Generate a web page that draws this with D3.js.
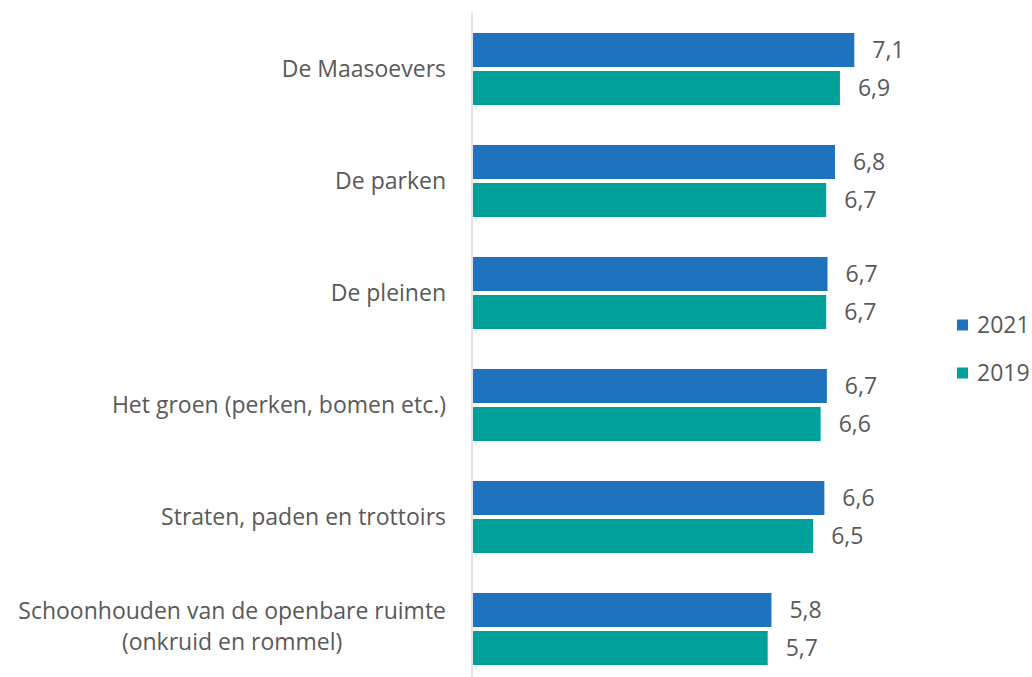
<!DOCTYPE html>
<html>
<head>
<meta charset="utf-8">
<script src="https://cdn.jsdelivr.net/npm/d3@7"></script>
<style>
  body { margin: 0; background: #fff; }
  svg text { font-family: "Open Sans", sans-serif; fill: #595959; }
</style>
</head>
<body>
<svg id="chart" width="1032" height="677"></svg>
<script>
const categories = [
  ["De Maasoevers"],
  ["De parken"],
  ["De pleinen"],
  ["Het groen (perken, bomen etc.)"],
  ["Straten, paden en trottoirs"],
  ["Schoonhouden van de openbare ruimte", "(onkruid en rommel)"]
];
const years = ["2021", "2019"];
const values2021 = [7.12, 6.81, 6.69, 6.68, 6.64, 5.79];
const values2019 = [6.89, 6.67, 6.67, 6.58, 6.46, 5.73];
const colors = ["#1f72be", "#00a19a"];

const svg = d3.select("#chart");
const width = 1032, height = 677;
const fontSize = 23;

const data = categories.map((c, i) => ({
  label: c,
  vals: [values2021[i], values2019[i]]
}));

const x = d3.scaleLinear()
  .domain([1, 10])
  .range([473, 473 + 9 * 62.3]);

const y0 = d3.scaleBand()
  .domain(d3.range(categories.length))
  .range([13, 685])
  .paddingInner(0.357)
  .paddingOuter(0.1785);

const y1 = d3.scaleBand()
  .domain(years)
  .range([0, y0.bandwidth()])
  .paddingInner(0.105);

// axis line
svg.append("line")
  .attr("x1", 472).attr("x2", 472)
  .attr("y1", 12).attr("y2", height)
  .attr("stroke", "#d9d9d9")
  .attr("stroke-width", 1.5);

const groups = svg.selectAll(".grp")
  .data(data)
  .enter().append("g")
  .attr("class", "grp")
  .attr("transform", (d, i) => `translate(0, ${y0(i)})`);

groups.selectAll("rect")
  .data(d => d.vals.map((v, j) => ({ year: years[j], v, j })))
  .enter().append("rect")
  .attr("x", x(1))
  .attr("y", d => y1(d.year))
  .attr("width", d => x(d.v) - x(1))
  .attr("height", y1.bandwidth())
  .attr("fill", d => colors[d.j]);

groups.selectAll(".val")
  .data(d => d.vals.map((v, j) => ({ year: years[j], v, j })))
  .enter().append("text")
  .attr("class", "val")
  .attr("x", d => x(d.v) + 18)
  .attr("y", d => y1(d.year) + y1.bandwidth() / 2)
  .attr("dy", "0.35em")
  .attr("font-size", fontSize)
  .text(d => d.v.toFixed(1).replace(".", ","));

// category labels (multi-line labels: lines centred on each other, block right-aligned)
groups.each(function(d) {
  const g = d3.select(this);
  const n = d.label.length;
  const lineH = 31;
  const cy = y0.bandwidth() / 2 - 3 * (n - 1);
  const lines = d.label.map((line, k) => g.append("text")
    .attr("font-size", fontSize)
    .attr("y", cy + (k - (n - 1) / 2) * lineH)
    .attr("dy", "0.35em")
    .text(line));
  const maxW = d3.max(lines, t => t.node().getComputedTextLength());
  const center = 446 - maxW / 2;
  lines.forEach(t => t.attr("x", center).attr("text-anchor", "middle"));
});

// legend
const legend = svg.append("g");
years.forEach((yr, i) => {
  const ly = 325 + i * 48;
  legend.append("rect")
    .attr("x", 957).attr("y", ly - 5.5)
    .attr("width", 11).attr("height", 11)
    .attr("fill", colors[i]);
  legend.append("text")
    .attr("x", 977).attr("y", ly)
    .attr("dy", "0.35em")
    .attr("font-size", fontSize)
    .text(yr);
});
</script>
</body>
</html>
